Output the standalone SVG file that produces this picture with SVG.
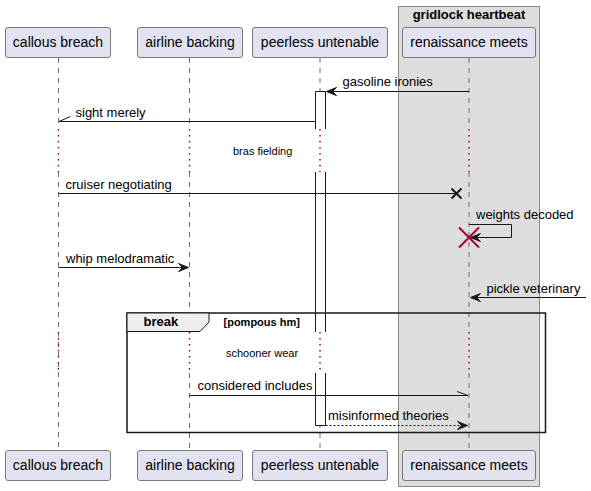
<svg xmlns="http://www.w3.org/2000/svg" width="591" height="491" viewBox="0 0 591 491">
<defs>
<style>
text{font-family:"Liberation Sans",Arial,sans-serif;fill:#000}
.p{font-size:14px;text-anchor:middle}
.m{font-size:13px}
.d{font-size:11px}
.b{font-weight:bold}
.pbox{fill:#E2E2F0;stroke:#7a7a7a;stroke-width:1}
.life{stroke:#6a6a6a;stroke-width:1;stroke-dasharray:5,5;fill:none}
.dot{stroke:#A80036;stroke-width:1.5;stroke-dasharray:1.5,4.5;fill:none}
.msg{stroke:#181818;stroke-width:1;fill:none}
.dash{stroke:#181818;stroke-width:1;stroke-dasharray:2,2;fill:none}
.ah{fill:#181818;stroke:#181818;stroke-width:1}
</style>
</defs>
<rect x="398.5" y="6.5" width="141" height="480" fill="#DDDDDD" stroke="#8a8a8a" stroke-width="1"/>
<text x="469" y="19" class="m b" text-anchor="middle">gridlock heartbeat</text>
<g id="lifelines">
<path class="life" d="M58.5,58V128M58.5,172V450"/>
<path class="dot" d="M58.5,129V172M58.5,332V373"/>
<path class="life" d="M189.5,58V128M189.5,172V331M189.5,373V450"/>
<path class="dot" d="M189.5,129V172M189.5,332V373"/>
<path class="life" d="M320,58V128M320,172V331M320,373V450"/>
<path class="dot" d="M320,129V172M320,332V373"/>
<path class="life" d="M469,58V128M469,172V331M469,373V450"/>
<path class="dot" d="M469,129V172M469,332V373"/>
</g>
<g id="activation">
<rect x="315.5" y="91.5" width="10" height="37.5" fill="#fff" stroke="none"/>
<rect x="315.5" y="172" width="10" height="160" fill="#fff" stroke="none"/>
<rect x="315.5" y="373" width="10" height="52" fill="#fff" stroke="none"/>
<path class="msg" d="M315.5,129V91.5H325.5V129M315.5,172V332M325.5,172V332M315.5,373V425.5H325.5V373"/>
</g>
<g id="p1"><rect class="pbox" x="5.5" y="27.5" width="105" height="30" rx="2.5"/><text class="p" x="58" y="47">callous breach</text>
<rect class="pbox" x="5.5" y="450.5" width="105" height="30" rx="2.5"/><text class="p" x="58" y="470">callous breach</text></g>
<g id="p2"><rect class="pbox" x="137.5" y="27.5" width="105" height="30" rx="2.5"/><text class="p" x="190" y="47">airline backing</text>
<rect class="pbox" x="137.5" y="450.5" width="105" height="30" rx="2.5"/><text class="p" x="190" y="470">airline backing</text></g>
<g id="p3"><rect class="pbox" x="252.5" y="27.5" width="135" height="30" rx="2.5"/><text class="p" x="320" y="47">peerless untenable</text>
<rect class="pbox" x="252.5" y="450.5" width="135" height="30" rx="2.5"/><text class="p" x="320" y="470">peerless untenable</text></g>
<g id="p4"><rect class="pbox" x="402.5" y="27.5" width="133" height="30" rx="2.5"/><text class="p" x="469" y="47">renaissance meets</text>
<rect class="pbox" x="402.5" y="450.5" width="133" height="30" rx="2.5"/><text class="p" x="469" y="470">renaissance meets</text></g>
<g id="connectors">
<path class="msg" d="M469,91.5H327"/>
<polygon class="ah" points="326.5,91.5 336.5,87.5 332.5,91.5 336.5,95.5"/>
<text class="m" x="342.5" y="86">gasoline ironies</text>
<path class="msg" d="M315.5,121.5H59M59,121.5L70.5,116.5"/>
<text class="m" x="75.5" y="117">sight merely</text>
<text class="d" x="233" y="155">bras fielding</text>
<path class="msg" d="M58.5,193.5H456"/>
<path stroke="#181818" stroke-width="2" d="M451.5,188.5L461.5,198.5M451.5,198.5L461.5,188.5"/>
<text class="m" x="65.5" y="189">cruiser negotiating</text>
<path class="msg" d="M469,224.5H511.5V237.5H471"/>
<polygon class="ah" points="470.5,237.5 480.5,233.5 476.5,237.5 480.5,241.5"/>
<path stroke="#A80036" stroke-width="2" d="M459,227.5L479,247.5M459,247.5L479,227.5"/>
<text class="m" x="476" y="219">weights decoded</text>
<path class="msg" d="M58.5,267.5H187"/>
<polygon class="ah" points="188.5,267.5 178.5,263.5 182.5,267.5 178.5,271.5"/>
<text class="m" x="66" y="263">whip melodramatic</text>
<path class="msg" d="M586,297.5H472"/>
<polygon class="ah" points="470.5,297.5 480.5,293.5 476.5,297.5 480.5,301.5"/>
<text class="m" x="486.5" y="293">pickle veterinary</text>
<text class="d" x="226" y="357">schooner wear</text>
<path class="msg" d="M189.5,395.5H468M468,395.5L457,391.5"/>
<text class="m" x="197.5" y="390">considered includes</text>
<path class="dash" d="M325.5,425.5H466"/>
<polygon class="ah" points="467.5,425.5 457.5,421.5 461.5,425.5 457.5,429.5"/>
<text class="m" x="328" y="420">misinformed theories</text>
</g>
<g id="fragment">
<rect x="127" y="313" width="418.5" height="119.5" fill="none" stroke="#181818" stroke-width="1.5"/>
<polygon points="127,313 209,313 209,322 200,331.5 127,331.5" fill="#EEEEEE" stroke="#181818" stroke-width="1"/>
<text class="m b" x="143.5" y="326">break</text>
<text class="d b" x="223.5" y="326">[pompous hm]</text>
</g>
</svg>
